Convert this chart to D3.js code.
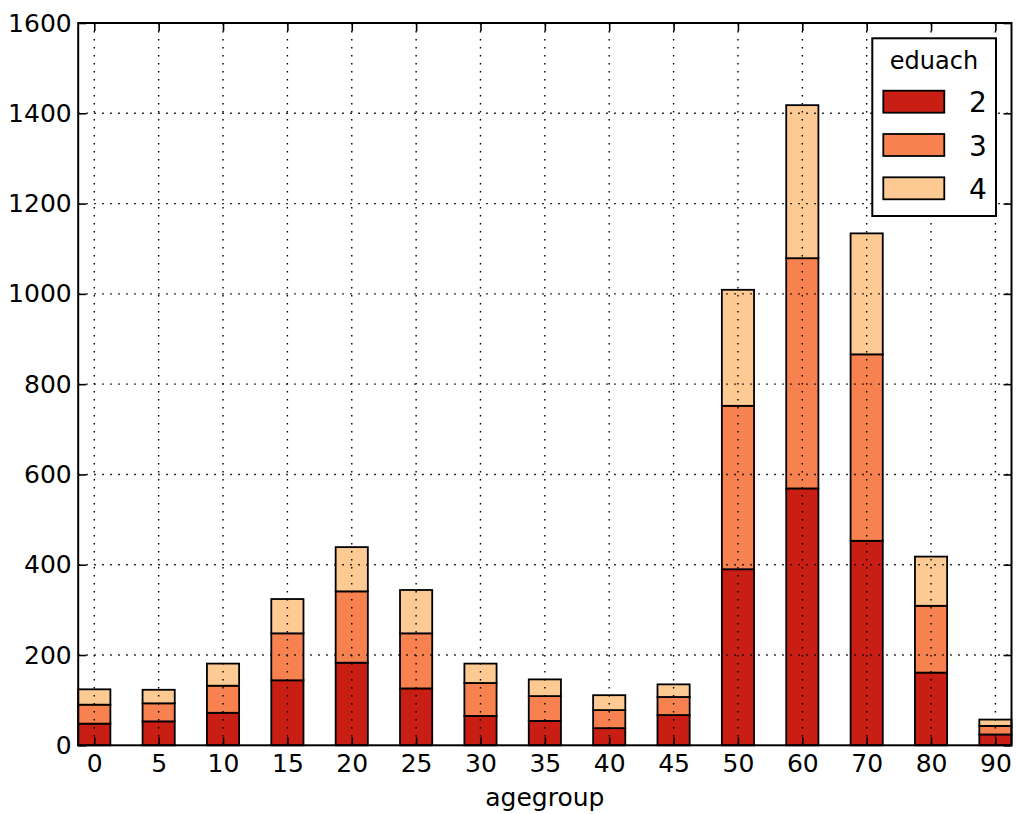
<!DOCTYPE html>
<html>
<head>
<meta charset="utf-8">
<script src="https://cdn.jsdelivr.net/npm/d3@7"></script>
<style>
body { margin: 0; background: #fff; }
svg { font-family: "DejaVu Sans", sans-serif; }
</style>
</head>
<body>
<svg id="chart" width="1016" height="814"></svg>
<script>
const categories = ["0","5","10","15","20","25","30","35","40","45","50","60","70","80","90"];
const seriesNames = ["2","3","4"];
const edu2 = [48, 53, 72, 144, 183, 126, 65, 54, 38, 67, 390, 569, 453, 161, 24];
const edu3 = [42, 40, 60, 104, 158, 122, 73, 55, 40, 40, 362, 510, 413, 148, 19];
const edu4 = [34, 30, 49, 76, 98, 96, 43, 37, 33, 28, 257, 339, 268, 109, 14];
const yTicks = [0, 200, 400, 600, 800, 1000, 1200, 1400, 1600];
const colors = ["#c91e14", "#f7814f", "#fdca94"];

const svg = d3.select("#chart");
const L = 78.2, R = 1011.5, T = 23, B = 745.3;

const table = categories.map((c, i) => ({ cat: c, "2": edu2[i], "3": edu3[i], "4": edu4[i] }));
const stacked = d3.stack().keys(seriesNames)(table);

const x = d3.scaleLinear().domain([-0.25, categories.length - 0.75]).range([L, R]);
const y = d3.scaleLinear().domain([0, 1600]).range([B, T]);
const bw = 0.5;

// bars
const g = svg.append("g");
stacked.forEach((s, si) => {
  g.selectAll(null).data(s).enter().append("rect")
    .attr("x", (d, i) => x(i - bw / 2))
    .attr("width", x(bw) - x(0))
    .attr("y", d => y(d[1]))
    .attr("height", d => y(d[0]) - y(d[1]))
    .attr("fill", colors[si])
    .attr("stroke", "#000")
    .attr("stroke-width", 1.8);
});

// grid (on top of bars)
const grid = svg.append("g").attr("stroke", "#000").attr("stroke-width", 1.4)
  .attr("stroke-dasharray", "1.6,6.4");
grid.selectAll(null).data(yTicks.slice(1, -1)).enter().append("line")
  .attr("x1", L).attr("x2", R).attr("y1", d => y(d)).attr("y2", d => y(d));
grid.selectAll(null).data(categories).enter().append("line")
  .attr("x1", (d, i) => x(i)).attr("x2", (d, i) => x(i)).attr("y1", T).attr("y2", B);

// axes
const yAxisL = d3.axisLeft(y).tickValues(yTicks).tickFormat(d3.format("d")).tickSize(-8).tickPadding(6.5);
const yAxisR = d3.axisRight(y).tickValues(yTicks).tickSize(-8).tickFormat("");
const xAxisB = d3.axisBottom(x).tickValues(d3.range(categories.length))
  .tickFormat(i => categories[i]).tickSize(-8).tickPadding(8.5);
const xAxisT = d3.axisTop(x).tickValues(d3.range(categories.length)).tickSize(-8).tickFormat("");

function style(sel) {
  sel.select(".domain").remove();
  sel.selectAll(".tick line").attr("stroke", "#000").attr("stroke-width", 1.6);
  sel.selectAll("text").attr("fill", "#000").style("font-size", "25px")
    .style("font-family", "DejaVu Sans, sans-serif");
}
svg.append("g").attr("transform", `translate(${L},0)`).call(yAxisL).call(style);
svg.append("g").attr("transform", `translate(${R},0)`).call(yAxisR).call(style);
svg.append("g").attr("transform", `translate(0,${B})`).call(xAxisB).call(style);
svg.append("g").attr("transform", `translate(0,${T})`).call(xAxisT).call(style);

// frame
svg.append("rect").attr("x", L).attr("y", T).attr("width", R - L).attr("height", B - T)
  .attr("fill", "none").attr("stroke", "#000").attr("stroke-width", 2);

// x label
svg.append("text").attr("x", (L + R) / 2).attr("y", 806).attr("text-anchor", "middle")
  .style("font-size", "25px").text("agegroup");

// legend
const lg = svg.append("g");
lg.append("rect").attr("x", 872.3).attr("y", 38.3).attr("width", 123.7).attr("height", 177.7)
  .attr("fill", "#fff").attr("stroke", "#000").attr("stroke-width", 2);
lg.append("text").attr("x", 934).attr("y", 69).attr("text-anchor", "middle")
  .style("font-size", "24px").text("eduach");
seriesNames.forEach((s, i) => {
  const yy = 90.7 + i * 43.3;
  lg.append("rect").attr("x", 883.3).attr("y", yy).attr("width", 61).attr("height", 22)
    .attr("fill", colors[i]).attr("stroke", "#000").attr("stroke-width", 1.8);
  lg.append("text").attr("x", 978).attr("y", yy + 21.5).attr("text-anchor", "middle")
    .style("font-size", "28px").text(s);
});
</script>
</body>
</html>
